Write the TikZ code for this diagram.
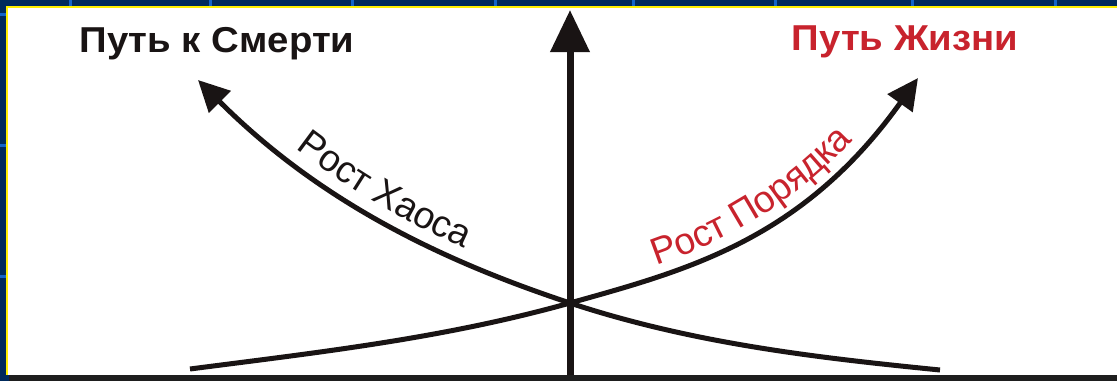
\documentclass[tikz,border=0pt]{standalone}
\usepackage{fontspec}
\setmainfont{Liberation Sans}
\usetikzlibrary{arrows.meta,decorations.text}
\definecolor{navy}{RGB}{0,42,92}
\definecolor{gridblue}{RGB}{20,100,200}
\definecolor{frameyellow}{RGB}{255,240,0}
\definecolor{lifered}{RGB}{200,35,45}
\definecolor{barblack}{RGB}{30,30,30}
\definecolor{inkblack}{RGB}{25,20,20}
\newcommand{\titlefont}{\fontsize{36}{36}\selectfont\bfseries}
\newcommand{\lblfont}{\fontsize{37.5}{37.5}\selectfont}
\newcommand{\widetitle}[1]{\scalebox{1.065}[1]{#1}}
\begin{document}
\begin{tikzpicture}[x=1pt,y=-1pt,
  axisline/.style={draw=inkblack,line width=7pt,-{Triangle[length=42pt,width=38pt]}},
  curveline/.style={draw=inkblack,line width=5pt,-{Triangle[length=31pt,width=30pt]}},
  titletext/.style={inner sep=0pt,anchor=base,font=\titlefont}]
\useasboundingbox (0,0) rectangle (1117,381);
% frame
\fill[navy] (0,0) rectangle (1117,381);
\foreach \gx in {70,210,352,495,633,775,912,1055}
  \fill[gridblue] (\gx-1.5,0) rectangle (\gx+1.5,6);
\foreach \gy in {14,145,276}
  \fill[gridblue] (0,\gy-1.5) rectangle (6,\gy+1.5);
\fill[frameyellow] (6,6) rectangle (1117,8);
\fill[frameyellow] (6,6) rectangle (8,375);
\fill[white] (8,8) rectangle (1117,375);
\fill[barblack] (9,375) rectangle (1117,381);
% points
\coordinate (axisbase) at (570,375);
\coordinate (axistop) at (570,10);
\coordinate (X) at (570,303);
\coordinate (chaosstart) at (940,370);
\coordinate (chaostip) at (198,80);
\coordinate (orderstart) at (190,369);
\coordinate (ordertip) at (918,78);
% axis
\draw[axisline] (axisbase) -- (axistop);
% curves
\draw[curveline] (chaosstart) .. controls (817,357.7) and (693,343.6) .. (X)
  .. controls (446,262) and (322,204) .. (chaostip);
\draw[curveline] (orderstart) .. controls (317,352.5) and (443,338.6) .. (X)
  .. controls (686,270.5) and (802,240.4) .. (ordertip);
% curve labels
\path[decorate,decoration={text along path,
  text={|\lblfont\color{inkblack}|Рост Хаоса},
  text align={left indent=120pt},raise=13pt}]
  (chaostip) .. controls (322,204) and (446,262) .. (X);
\path[decorate,decoration={text along path,
  text={|\lblfont\color{lifered}|Рост Порядка},
  text align={left indent=94pt},raise=11pt}]
  (X) .. controls (686,270.5) and (802,240.4) .. (ordertip);
% titles
\node[titletext,text=inkblack] (deathtitle) at (217,52) {\widetitle{Путь к Смерти}};
\node[titletext,text=lifered] (lifetitle) at (905,50) {\widetitle{Путь Жизни}};
\end{tikzpicture}
\end{document}
